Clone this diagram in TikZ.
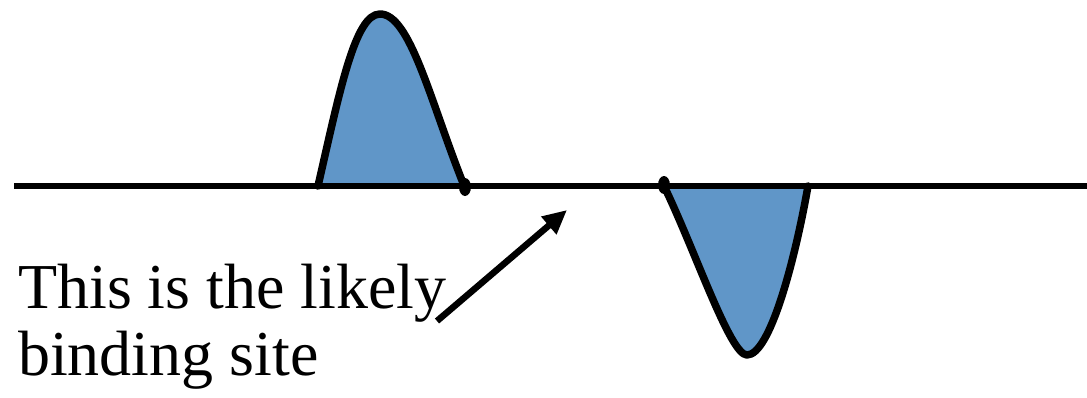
\documentclass[tikz,border=0pt]{standalone}
\usepackage{fontspec}
\setmainfont{Liberation Serif}
\usetikzlibrary{arrows.meta}
\definecolor{bumpblue}{RGB}{96,150,200}
\tikzset{
  outline/.style={line width=7.5pt, line join=round, line cap=round},
  bumpfill/.style={fill=bumpblue},
  label/.style={anchor=base west, inner sep=0pt, font=\fontsize{64}{67}\selectfont},
  pointer/.style={line width=6.5pt, -{Triangle[length=24pt,width=22pt]}},
}
\begin{document}
\begin{tikzpicture}[x=1pt,y=-1pt]
\useasboundingbox (0,0) rectangle (1087,397);
% upper bump
\fill[bumpfill] (318,186) .. controls (340,90) and (355,14) .. (380,14)
  .. controls (410,14) and (430,100) .. (463,186) -- cycle;
\draw[outline] (318,186) .. controls (340,90) and (355,14) .. (380,14)
  .. controls (410,14) and (430,100) .. (463,183);
% lower bump
\fill[bumpfill] (664,186) .. controls (695,250) and (730,355) .. (747,355)
  .. controls (770,355) and (795,260) .. (808,186) -- cycle;
\draw[outline] (664,186) .. controls (695,250) and (730,355) .. (747,355)
  .. controls (770,355) and (795,260) .. (808,186);
% baseline
\coordinate (bl) at (14,186);
\coordinate (br) at (1087,186);
\draw[line width=6.5pt] (bl) -- (br);
% end blobs
\fill (465,187) ellipse [x radius=6pt, y radius=9pt];
\fill (664,185) ellipse [x radius=6pt, y radius=9pt];
% labels
\node[label] (line1) at (18,308) {This is the likely};
\node[label] (line2) at (18,375) {binding site};
% arrow
\coordinate (tail) at (437,321);
\coordinate (tip) at (567,210);
\draw[pointer] (tail) -- (tip);
\end{tikzpicture}
\end{document}
